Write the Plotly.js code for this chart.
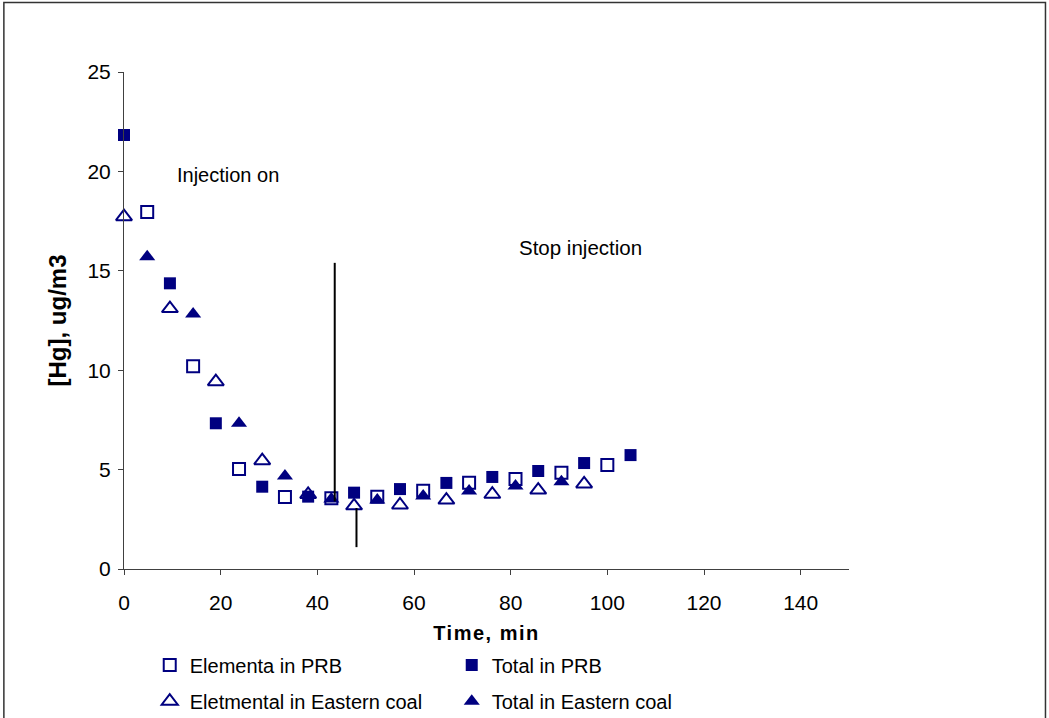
<!DOCTYPE html>
<html>
<head>
<meta charset="utf-8">
<script src="https://cdn.plot.ly/plotly-3.0.1.min.js"></script>
<style>
  html, body { margin: 0; padding: 0; background: #fff; }
  #chart { width: 1049px; height: 718px; }
  #chart .xtitle { letter-spacing: 1.5px; }
</style>
</head>
<body>
<div id="chart"></div>
<script>
// ---- data ----
const timeElemPRB  = [4.8, 14.3, 23.8, 33.3, 42.9, 52.4, 61.9, 71.4, 81.0, 90.5, 100.0];
const elemPRB      = [17.96, 10.2, 5.03, 3.62, 3.56, 3.64, 3.94, 4.34, 4.53, 4.84, 5.23];

const timeTotalPRB = [0, 9.5, 19.0, 28.6, 38.1, 47.6, 57.1, 66.7, 76.2, 85.7, 95.2, 104.8];
const totalPRB     = [21.83, 14.37, 7.33, 4.14, 3.64, 3.84, 4.02, 4.33, 4.63, 4.93, 5.33, 5.73];

const timeElemEast = [0, 9.5, 19.0, 28.6, 38.1, 47.6, 57.1, 66.7, 76.2, 85.7, 95.2];
const elemEast     = [17.72, 13.1, 9.42, 5.45, 3.75, 3.18, 3.22, 3.47, 3.76, 3.97, 4.28];

const timeTotalEast = [4.8, 14.3, 23.8, 33.3, 42.9, 52.4, 61.9, 71.4, 81.0, 90.5];
const totalEast     = [15.71, 12.83, 7.33, 4.68, 3.52, 3.47, 3.67, 3.92, 4.17, 4.39];

const seriesNames = ['Elementa in PRB', 'Total in PRB', 'Eletmental in Eastern coal', 'Total in Eastern coal'];
const xTicks = [0, 20, 40, 60, 80, 100, 120, 140];
const yTicks = [0, 5, 10, 15, 20, 25];

// ---- styling ----
const navy = '#000080';
const FONT = 'Arial, "Liberation Sans", sans-serif';

function mk(x, y, name, symbol, legend) {
  const open = symbol.indexOf('open') >= 0;
  const tri = symbol.indexOf('triangle') >= 0;
  return {
    type: 'scatter', mode: 'markers', x: x, y: y, name: name, legend: legend,
    cliponaxis: false,
    marker: { symbol: symbol, size: tri ? 14 : 12, color: navy,
              line: { color: navy, width: open ? 2 : 0 } },
    hoverinfo: 'x+y+name'
  };
}

const traces = [
  mk(timeElemPRB, elemPRB, seriesNames[0], 'square-open', 'legend'),
  mk(timeTotalPRB, totalPRB, seriesNames[1], 'square', 'legend'),
  mk(timeElemEast, elemEast, seriesNames[2], 'triangle-up-open', 'legend2'),
  mk(timeTotalEast, totalEast, seriesNames[3], 'triangle-up', 'legend2')
];

const legendCommon = {
  orientation: 'h', xanchor: 'left', yanchor: 'middle',
  entrywidth: 257, entrywidthmode: 'pixels',
  font: { family: FONT, size: 20, color: '#000' },
  bgcolor: 'rgba(0,0,0,0)', borderwidth: 0, traceorder: 'normal'
};

const layout = {
  width: 1049, height: 718,
  margin: { l: 124, r: 200, t: 72, b: 149, autoexpand: false },
  paper_bgcolor: '#fff', plot_bgcolor: '#fff',
  font: { family: FONT, size: 20, color: '#000' },
  showlegend: true,
  legend: Object.assign({}, legendCommon, { x: 0.0355, y: -0.193 }),
  legend2: Object.assign({}, legendCommon, { x: 0.0355, y: -0.266 }),
  xaxis: {
    range: [0, 150], tickvals: xTicks, ticktext: xTicks.map(String),
    showgrid: false, zeroline: false,
    showline: true, linecolor: '#404040', linewidth: 1,
    ticks: 'outside', ticklen: 5, tickcolor: '#404040', tickwidth: 1,
    ticklabelstandoff: 10,
    tickfont: { family: FONT, size: 21, color: '#000' },
    title: { text: '<b>Time, min</b>', font: { family: FONT, size: 20, color: '#000' }, standoff: 12 },
    fixedrange: true
  },
  yaxis: {
    range: [0, 25], tickvals: yTicks, ticktext: yTicks.map(String),
    showgrid: false, zeroline: false,
    showline: true, linecolor: '#404040', linewidth: 1,
    ticks: 'outside', ticklen: 5, tickcolor: '#404040', tickwidth: 1,
    ticklabelstandoff: 3,
    tickfont: { family: FONT, size: 21, color: '#000' },
    title: { text: '<b>[Hg], ug/m3</b>', font: { family: FONT, size: 24, color: '#000' }, standoff: 14 },
    fixedrange: true
  },
  annotations: [
    { x: 10.5, y: 19.8, xref: 'x', yref: 'y', text: 'Injection on', showarrow: false,
      xanchor: 'left', yanchor: 'middle', font: { family: FONT, size: 20, color: '#000' } },
    { x: 81.3, y: 16.15, xref: 'x', yref: 'y', text: 'Stop injection', showarrow: false,
      xanchor: 'left', yanchor: 'middle', font: { family: FONT, size: 20.5, color: '#000' } }
  ],
  shapes: [
    // long marker line (injection)
    { type: 'line', xref: 'x', yref: 'y', x0: 43.6, x1: 43.6, y0: 15.4, y1: 3.4,
      line: { color: '#000', width: 2 } },
    // short marker line (stop injection)
    { type: 'line', xref: 'x', yref: 'y', x0: 48.1, x1: 48.1, y0: 3.07, y1: 1.1,
      line: { color: '#000', width: 2 } },
    // outer chart frame
    { type: 'rect', xref: 'paper', yref: 'paper', x0: -0.1657, x1: 1.271, y0: -0.32, y1: 1.1398,
      line: { color: '#333', width: 1.5 }, fillcolor: 'rgba(0,0,0,0)', layer: 'below' }
  ]
};

Plotly.newPlot('chart', traces, layout, { displayModeBar: false, staticPlot: true });
</script>
</body>
</html>
